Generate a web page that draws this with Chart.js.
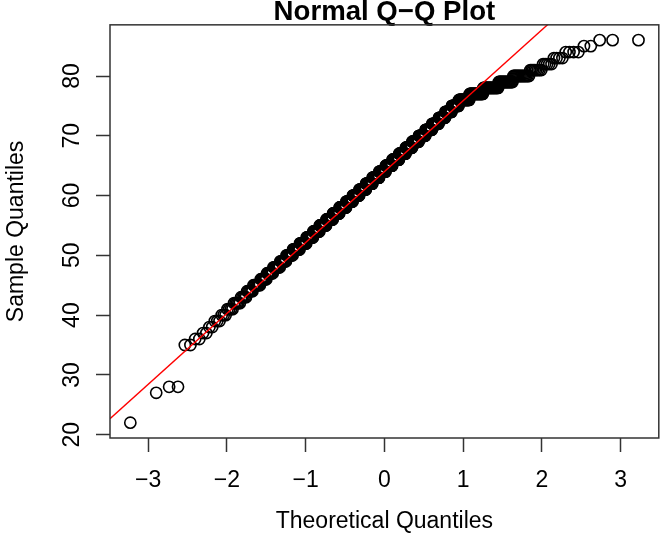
<!DOCTYPE html>
<html>
<head>
<meta charset="utf-8">
<script src="https://cdn.jsdelivr.net/npm/chart.js@4.4.1/dist/chart.umd.min.js"></script>
<style>
  html, body { margin: 0; padding: 0; background: #fff; }
  canvas { display: block; }
</style>
</head>
<body>
<canvas id="qq" width="666" height="549"></canvas>
<script>
// sample values (integer scores) and how many times each one occurs
const scoreValues = [22, 27, 28,
  35, 36, 37, 38, 39, 40, 41, 42, 43, 44,
  45, 46, 47, 48, 49, 50, 51, 52, 53, 54,
  55, 56, 57, 58, 59, 60, 61, 62, 63, 64,
  65, 66, 67, 68, 69, 70, 71, 72, 73, 74,
  75, 76, 77, 78, 79, 80, 81, 82, 83, 84,
  85, 86];
const scoreCounts = [1, 1, 2,
  2, 2, 2, 2, 3, 3, 4, 5, 5, 6,
  8, 8, 9, 11, 11, 13, 15, 16, 17, 18,
  20, 21, 22, 24, 24, 25, 26, 26, 27, 26,
  27, 27, 26, 25, 25, 24, 23, 22, 20, 19,
  19, 26, 28, 25, 18, 15, 8, 5, 4, 4,
  2, 3];

const xTicks = [-3, -2, -1, 0, 1, 2, 3];
const yTicks = [20, 30, 40, 50, 60, 70, 80];

const FONT = "'Liberation Sans', Arial, Helvetica, sans-serif";

// inverse normal cdf (Acklam)
function qnorm(p) {
  const a = [-3.969683028665376e+01, 2.209460984245205e+02, -2.759285104469687e+02,
             1.383577518672690e+02, -3.066479806614716e+01, 2.506628277459239e+00];
  const b = [-5.447609879822406e+01, 1.615858368580409e+02, -1.556989798598866e+02,
             6.680131188771972e+01, -1.328068155288572e+01];
  const c = [-7.784894002430293e-03, -3.223964580411365e-01, -2.400758277161838e+00,
             -2.549732539343734e+00, 4.374664141464968e+00, 2.938163982698783e+00];
  const d = [7.784695709041462e-03, 3.224671290700398e-01, 2.445134137142996e+00,
             3.754408661907416e+00];
  const pl = 0.02425;
  if (p < pl) {
    const q = Math.sqrt(-2 * Math.log(p));
    return (((((c[0]*q+c[1])*q+c[2])*q+c[3])*q+c[4])*q+c[5]) / ((((d[0]*q+d[1])*q+d[2])*q+d[3])*q+1);
  }
  if (p > 1 - pl) {
    const q = Math.sqrt(-2 * Math.log(1 - p));
    return -(((((c[0]*q+c[1])*q+c[2])*q+c[3])*q+c[4])*q+c[5]) / ((((d[0]*q+d[1])*q+d[2])*q+d[3])*q+1);
  }
  const q = p - 0.5, r = q * q;
  return (((((a[0]*r+a[1])*r+a[2])*r+a[3])*r+a[4])*r+a[5])*q / (((((b[0]*r+b[1])*r+b[2])*r+b[3])*r+b[4])*r+1);
}

// sorted sample
const sample = [];
scoreValues.forEach((v, i) => {
  for (let k = 0; k < scoreCounts[i]; k++) sample.push(v);
});
const n = sample.length;

// theoretical quantiles, like R's qqnorm (ppoints with a = 0.5)
const points = sample.map((v, i) => ({ x: qnorm((i + 1 - 0.5) / n), y: v }));

// qqline through the quartiles (quantile type 7)
function quantile7(arr, p) {
  const h = (arr.length - 1) * p;
  const lo = Math.floor(h);
  const hi = Math.min(lo + 1, arr.length - 1);
  return arr[lo] + (h - lo) * (arr[hi] - arr[lo]);
}
const q1 = quantile7(sample, 0.25), q3 = quantile7(sample, 0.75);
const z1 = qnorm(0.25), z3 = qnorm(0.75);
const slope = (q3 - q1) / (z3 - z1);
const intercept = q1 - slope * z1;

// axis limits with R's 4% extension
const xLo = points[0].x, xHi = points[n - 1].x;
const yLo = sample[0], yHi = sample[n - 1];
const xMin = xLo - 0.04 * (xHi - xLo), xMax = xHi + 0.04 * (xHi - xLo);
const yMin = yLo - 0.04 * (yHi - yLo), yMax = yHi + 0.04 * (yHi - yLo);

const linePts = [
  { x: xMin, y: intercept + slope * xMin },
  { x: xMax, y: intercept + slope * xMax }
];

const boxPlugin = {
  id: 'plotBox',
  afterDraw(chart) {
    const { ctx, chartArea: a } = chart;
    ctx.save();
    ctx.strokeStyle = '#333';
    ctx.lineWidth = 1.5;
    ctx.strokeRect(a.left, a.top, a.right - a.left, a.bottom - a.top);
    ctx.restore();
  }
};

const minus = v => (v < 0 ? '\u2212' + Math.abs(v) : String(v));

new Chart(document.getElementById('qq').getContext('2d'), {
  type: 'scatter',
  data: {
    datasets: [
      {
        type: 'line',
        data: linePts,
        borderColor: '#ff0000',
        borderWidth: 1.4,
        pointRadius: 0,
        fill: false,
        clip: 0,
        order: 0
      },
      {
        data: points,
        pointStyle: 'circle',
        pointRadius: 5.6,
        borderColor: '#000',
        borderWidth: 1.6,
        backgroundColor: 'rgba(0,0,0,0)',
        order: 1
      }
    ]
  },
  options: {
    responsive: false,
    animation: false,
    events: [],
    layout: { padding: { left: 0, right: 2, top: 0, bottom: 0 } },
    plugins: {
      legend: { display: false },
      tooltip: { enabled: false },
      title: {
        display: true,
        text: 'Normal Q\u2212Q Plot',
        fullSize: false,
        color: '#000',
        font: { family: FONT, size: 27.6, weight: 'bold', lineHeight: 0.9 },
        padding: 0
      }
    },
    scales: {
      x: {
        type: 'linear',
        position: 'bottom',
        min: xMin,
        max: xMax,
        afterBuildTicks: s => { s.ticks = xTicks.map(v => ({ value: v })); },
        afterFit: s => { s.height = 111; },
        grid: { display: true, drawOnChartArea: false, drawTicks: true, tickLength: 14, tickWidth: 1.5, tickColor: '#333' },
        border: { display: false },
        ticks: { color: '#000', font: { family: FONT, size: 23 }, padding: 15, maxRotation: 0, callback: minus },
        title: { display: true, text: 'Theoretical Quantiles', color: '#000', font: { family: FONT, size: 23 }, padding: { top: 0, bottom: 14 } }
      },
      y: {
        type: 'linear',
        min: yMin,
        max: yMax,
        afterBuildTicks: s => { s.ticks = yTicks.map(v => ({ value: v })); },
        afterFit: s => { s.width = 110; },
        grid: { display: true, drawOnChartArea: false, drawTicks: true, tickLength: 14, tickWidth: 1.5, tickColor: '#333' },
        border: { display: false },
        ticks: { color: '#000', font: { family: FONT, size: 23 }, padding: 11, minRotation: 90, maxRotation: 90, crossAlign: 'center', callback: v => String(v) },
        title: { display: true, text: 'Sample Quantiles', color: '#000', font: { family: FONT, size: 23 }, padding: { top: 3, bottom: 0 } }
      }
    }
  },
  plugins: [boxPlugin]
});
</script>
</body>
</html>
